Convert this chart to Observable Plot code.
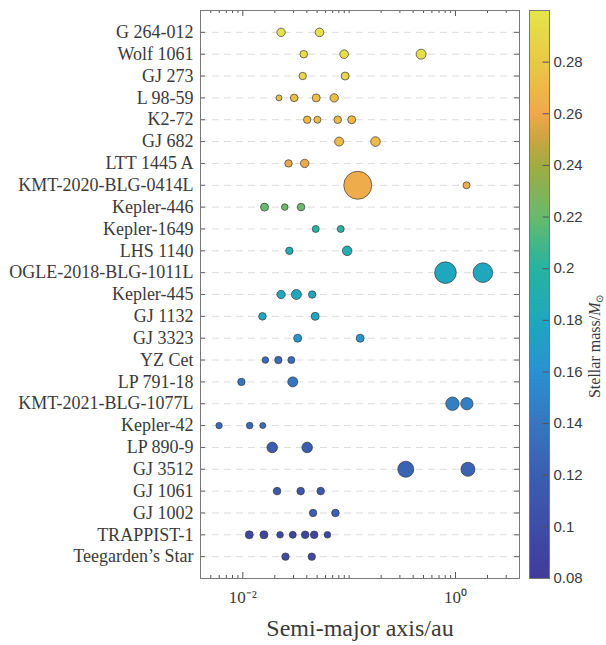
<!DOCTYPE html>
<html><head><meta charset="utf-8">
<script src="https://cdn.jsdelivr.net/npm/d3@7"></script>
<script src="https://cdn.jsdelivr.net/npm/@observablehq/plot@0.6"></script>
<style>
body{margin:0;background:#fff;}
#wrap{position:relative;width:606px;height:645px;background:#fff;}
#wrap > svg{position:absolute;top:0;}
</style></head><body><div id="wrap"></div>
<script>
// ---- data ----
const stars = ["G 264-012","Wolf 1061","GJ 273","L 98-59","K2-72","GJ 682","LTT 1445 A",
  "KMT-2020-BLG-0414L","Kepler-446","Kepler-1649","LHS 1140","OGLE-2018-BLG-1011L","Kepler-445",
  "GJ 1132","GJ 3323","YZ Cet","LP 791-18","KMT-2021-BLG-1077L","Kepler-42","LP 890-9","GJ 3512",
  "GJ 1061","GJ 1002","TRAPPIST-1","Teegarden\u2019s Star"];
const starMass = [0.297,0.294,0.29,0.273,0.27,0.27,0.258,0.262,0.22,0.2,0.19,0.18,0.18,
  0.179,0.164,0.13,0.139,0.145,0.13,0.118,0.123,0.113,0.12,0.09,0.097];
const semiMajorAxes = [
  [0.0229,0.0526],[0.0374,0.0897,0.475],[0.0366,0.0917],[0.0219,0.0304,0.049,0.0723],
  [0.0403,0.0503,0.0781,0.1057],[0.0805,0.177],[0.0269,0.0382],[0.1205,1.27],
  [0.016,0.0248,0.0353],[0.0485,0.0833],[0.0274,0.0958],[0.805,1.81],[0.0229,0.0319,0.0449],
  [0.0153,0.0479],[0.0328,0.127],[0.0163,0.0216,0.0286],[0.0097,0.0295],[0.937,1.28],
  [0.00598,0.0116,0.0154],[0.0189,0.0403],[0.341,1.31],[0.021,0.035,0.054],[0.0458,0.0743],
  [0.0115,0.0158,0.0224,0.0295,0.0386,0.0469,0.0625],[0.0252,0.0445]];
const planetSize = [
  [4.2,4.3],[3.8,4.3,5.0],[3.7,4.0],[3.0,3.8,4.0,4.2],[3.7,3.5,3.8,4.0],[4.5,4.8],[3.7,4.2],[14,3.5],
  [4.0,3.3,3.8],[3.5,3.5],[3.7,4.8],[10.8,9.8],[4.2,5.0,3.7],[3.8,4.0],[4.0,4.0],[3.3,3.7,3.5],
  [3.7,5.0],[6.7,6.2],[3.2,3.3,3.0],[5.3,5.3],[8.0,7.0],[3.8,3.8,3.8],[3.7,3.8],
  [4.0,4.0,3.3,3.5,3.8,3.8,3.3],[3.7,3.7]];
const xMajorTicks = [0.01, 1];
const xMinorTicks = [0.005,0.006,0.007,0.008,0.009,0.02,0.03,0.04,0.05,0.06,0.07,0.08,0.09,
  0.1,0.2,0.3,0.4,0.5,0.6,0.7,0.8,0.9,2,3];
const colorTicks = [0.08,0.1,0.12,0.14,0.16,0.18,0.2,0.22,0.24,0.26,0.28];
const colorStops = [0.08,0.10,0.12,0.14,0.16,0.18,0.20,0.22,0.24,0.25,0.26,0.28,0.30];
const colorStopColors = ["#413c9a","#3e4ea6","#3b5fb0","#3777bf","#2a92d0","#1fa8bd","#28b3a0",
  "#69ba6b","#a3ab43","#cca542","#f0a94c","#e9c946","#e4e64c"];

const planets = stars.flatMap((s, i) => semiMajorAxes[i].map((a, j) =>
  ({star: s, a, size: planetSize[i][j], mass: starMass[i]})));

const serif = "'Liberation Serif', 'Times New Roman', serif";
const sans = "'Liberation Sans', Arial, sans-serif";
const textColor = "#3a3a3a";
const colorScale = {type: "linear", domain: colorStops, range: colorStopColors, interpolate: "rgb", clamp: true};

const sup = {"-": "\u207B", "0": "\u2070", "1": "\u00B9", "2": "\u00B2", "3": "\u00B3", "4": "\u2074"};
const pow10 = d => "10" + String(Math.round(Math.log10(d))).split("").map(c => sup[c]).join("");

const H = 645, mTop = 10, mBottom = 67, plotH = H - mTop - mBottom;
const mainW = 520, mLeft = 200, mRight = 1, plotW = mainW - mLeft - mRight;

const main = Plot.plot({
  width: mainW, height: H,
  marginLeft: mLeft, marginRight: mRight, marginTop: mTop, marginBottom: mBottom,
  style: {background: "transparent", color: textColor},
  x: {type: "log", domain: [0.004, 4]},
  y: {type: "point", domain: stars, padding: 1, round: false},
  r: {type: "linear", domain: [0, 14], range: [0, 14]},
  color: colorScale,
  marks: [
    Plot.ruleY(stars, {y: d => d, stroke: "#dcdcdc", strokeDasharray: "7,5", strokeWidth: 1}),
    Plot.tickY(stars, {y: d => d, insetRight: plotW - 5, stroke: "#666"}),
    Plot.tickY(stars, {y: d => d, insetLeft: plotW - 5, stroke: "#666"}),
    Plot.tickX(xMinorTicks, {x: d => d, insetTop: plotH - 3, stroke: "#555"}),
    Plot.tickX(xMinorTicks, {x: d => d, insetBottom: plotH - 3, stroke: "#555"}),
    Plot.tickX(xMajorTicks, {x: d => d, insetTop: plotH - 6, stroke: "#555"}),
    Plot.tickX(xMajorTicks, {x: d => d, insetBottom: plotH - 6, stroke: "#555"}),
    Plot.dot(planets, {x: "a", y: "star", r: "size", fill: "mass", stroke: "#3a3a3a", strokeWidth: 0.7}),
    Plot.frame({stroke: "#777"}),
    Plot.axisY({tickSize: 0, tickPadding: 7, fontSize: 18, fontFamily: serif, label: null}),
    Plot.axisX(xMajorTicks, {tickSize: 0, tickPadding: 12, fontSize: 17, fontFamily: serif, tickFormat: pow10, label: null}),
    Plot.text(["Semi-major axis/au"], {frameAnchor: "bottom", dy: 57, fontSize: 24, fontFamily: serif, fill: textColor})
  ]
});
main.style.left = "0px";

const ramp = d3.range(0.08, 0.30, 0.0005);
const cbar = Plot.plot({
  width: 86, height: H,
  marginLeft: 9, marginRight: 57, marginTop: mTop, marginBottom: mBottom,
  style: {background: "transparent", color: textColor},
  x: {domain: [0, 1], axis: null},
  y: {domain: [0.08, 0.30]},
  color: colorScale,
  marks: [
    Plot.rect(ramp, {x1: 0, x2: 1, y1: d => d, y2: d => Math.min(0.30, d + 0.0009), fill: d => d}),
    Plot.ruleY(colorTicks, {y: d => d, x1: 0.68, x2: 1, stroke: "#555"}),
    Plot.frame({stroke: "#777"}),
    Plot.axisY(colorTicks, {anchor: "right", tickSize: 0, tickPadding: 4, fontSize: 15, fontFamily: sans,
      tickFormat: d => String(+d.toFixed(2)), label: null}),
    Plot.text(["Stellar mass/M\u2299"], {frameAnchor: "right", rotate: -90, dx: 45, fontSize: 16, fontFamily: serif, fill: textColor})
  ]
});
cbar.style.left = "520px";

const wrap = document.getElementById("wrap");
wrap.appendChild(main);
wrap.appendChild(cbar);

// italic M with a subscript sun symbol in the colour bar label
const ns = "http://www.w3.org/2000/svg";
const labels = cbar.querySelectorAll('g[aria-label="text"] text');
const lab = labels[labels.length - 1];
if (lab) {
  lab.textContent = "";
  const t1 = document.createElementNS(ns, "tspan"); t1.textContent = "Stellar mass/"; lab.appendChild(t1);
  const t2 = document.createElementNS(ns, "tspan"); t2.textContent = "M"; t2.setAttribute("font-style", "italic"); lab.appendChild(t2);
  const t3 = document.createElementNS(ns, "tspan"); t3.textContent = "\u2299"; t3.setAttribute("font-size", "10"); t3.setAttribute("dy", "3"); lab.appendChild(t3);
}
</script>
</body></html>
